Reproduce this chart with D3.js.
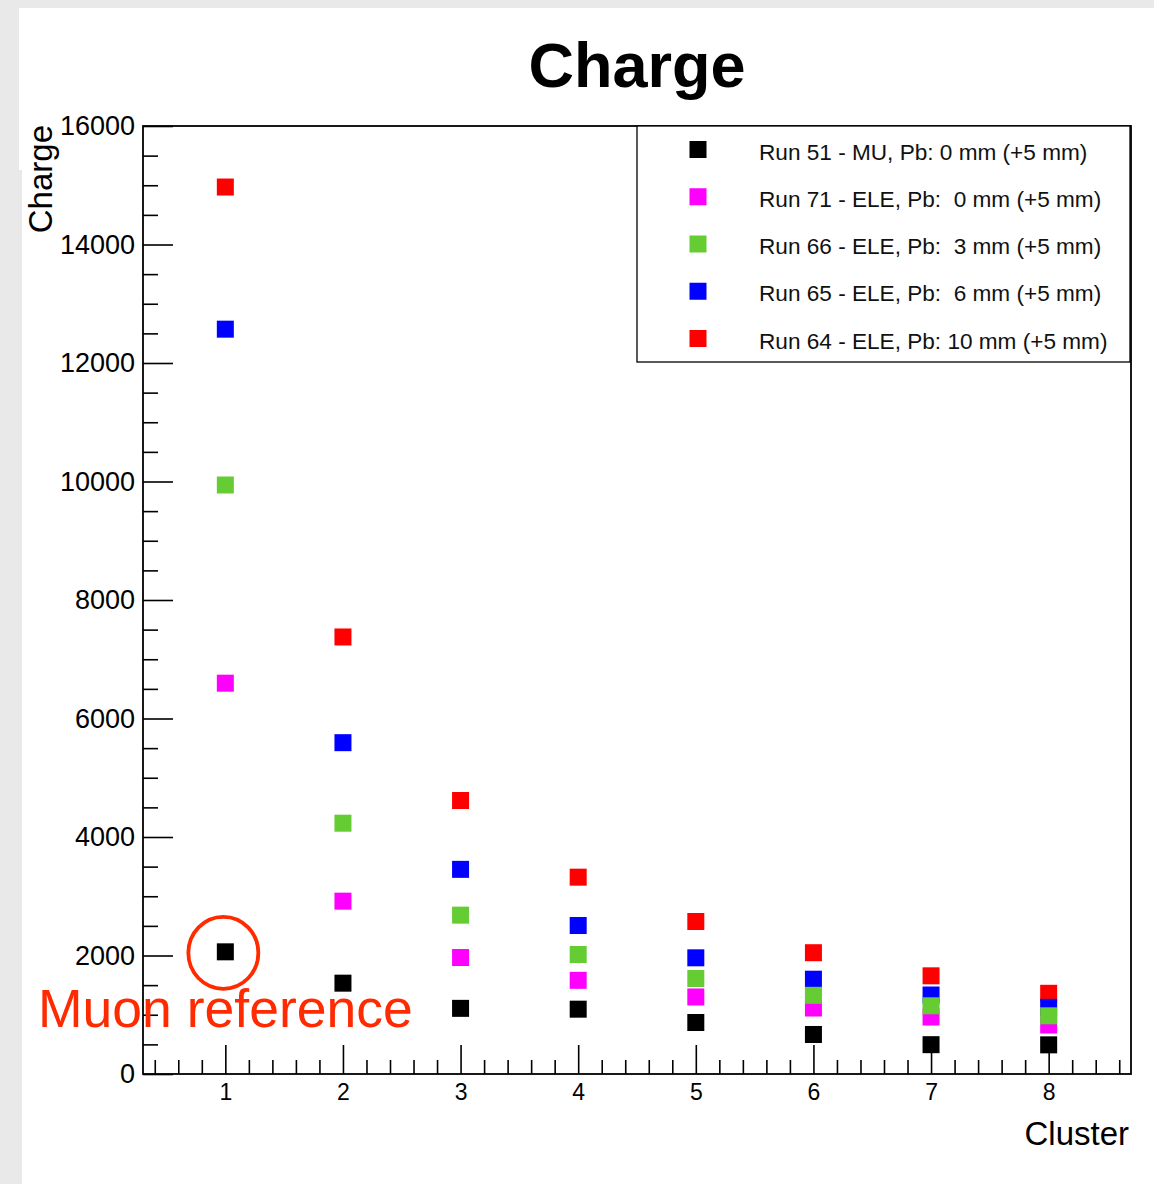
<!DOCTYPE html>
<html>
<head>
<meta charset="utf-8">
<script src="https://cdn.jsdelivr.net/npm/d3@7"></script>
<style>
  html, body { margin: 0; padding: 0; background: #e9e9e9; }
  svg { display: block; }
  text { font-family: "Liberation Sans", Arial, Helvetica, sans-serif; }
</style>
</head>
<body>
<script>
// Mean cluster charge per run, clusters 1..8
const clusters = [1, 2, 3, 4, 5, 6, 7, 8];
const run51 = [2062, 1533, 1108, 1094, 869, 667, 495, 492];
const run71 = [6596, 2917, 1966, 1581, 1300, 1114, 962, 827];
const run66 = [9941, 4233, 2681, 2017, 1612, 1328, 1151, 982];
const run65 = [12571, 5592, 3454, 2506, 1961, 1600, 1333, 1125];
const run64 = [14970, 7376, 4616, 3322, 2574, 2047, 1657, 1362];

const legendLabels = [
  "Run 51 - MU, Pb: 0 mm (+5 mm)",
  "Run 71 - ELE, Pb:  0 mm (+5 mm)",
  "Run 66 - ELE, Pb:  3 mm (+5 mm)",
  "Run 65 - ELE, Pb:  6 mm (+5 mm)",
  "Run 64 - ELE, Pb: 10 mm (+5 mm)"
];
const yMajorTicks = [0, 2000, 4000, 6000, 8000, 10000, 12000, 14000, 16000];
const xMajorTicks = [1, 2, 3, 4, 5, 6, 7, 8];

const series = [
  { values: run51, color: "#000000", label: legendLabels[0] },
  { values: run71, color: "#ff00ff", label: legendLabels[1] },
  { values: run66, color: "#66cc33", label: legendLabels[2] },
  { values: run65, color: "#0000ff", label: legendLabels[3] },
  { values: run64, color: "#ff0000", label: legendLabels[4] }
];
// painting order of the point sets
const drawOrder = [0, 1, 4, 3, 2];

const W = 1154, H = 1184;
const svg = d3.select("body").append("svg").attr("width", W).attr("height", H);

// canvas
svg.append("rect").attr("x", 0).attr("y", 0).attr("width", W).attr("height", H).attr("fill", "#e9e9e9");
svg.append("rect").attr("x", 19).attr("y", 8).attr("width", W - 19).attr("height", 162).attr("fill", "#ffffff");
svg.append("rect").attr("x", 22).attr("y", 168).attr("width", W - 22).attr("height", H - 168).attr("fill", "#ffffff");

const L = 143, R = 1131, T = 126, B = 1074;
const x = d3.scaleLinear().domain([0.3, 8.7]).range([L, R]);
const y = d3.scaleLinear().domain([0, 16000]).range([B, T]);

// minor ticks
const yMinor = d3.range(0, 16001, 500).filter(v => v % 2000 !== 0);
const xMinor = d3.range(4, 88, 2).map(v => v / 10).filter(v => Math.abs(v - Math.round(v)) > 1e-6);

const gYMinor = svg.append("g").attr("transform", `translate(${L},0)`)
  .call(d3.axisLeft(y).tickValues(yMinor).tickSizeInner(-15).tickSizeOuter(0).tickFormat(""));
const gYMajor = svg.append("g").attr("transform", `translate(${L},0)`)
  .call(d3.axisLeft(y).tickValues(yMajorTicks).tickSizeInner(-30).tickSizeOuter(0).tickPadding(8).tickFormat(d3.format("d")));
const gXMinor = svg.append("g").attr("transform", `translate(0,${B})`)
  .call(d3.axisBottom(x).tickValues(xMinor).tickSizeInner(-14).tickSizeOuter(0).tickFormat(""));
const gXMajor = svg.append("g").attr("transform", `translate(0,${B})`)
  .call(d3.axisBottom(x).tickValues(xMajorTicks).tickSizeInner(-29).tickSizeOuter(0).tickPadding(10).tickFormat(d3.format("d")));

[gYMinor, gYMajor, gXMinor, gXMajor].forEach(g => {
  g.select(".domain").remove();
  g.selectAll(".tick line").attr("stroke", "#000").attr("stroke-width", 1.6);
});
gYMajor.selectAll(".tick text").attr("font-size", 27).attr("fill", "#000")
  .attr("font-family", "'Liberation Sans', Arial, Helvetica, sans-serif");
gXMajor.selectAll(".tick text").attr("font-size", 23).attr("fill", "#000")
  .attr("font-family", "'Liberation Sans', Arial, Helvetica, sans-serif");

// frame
svg.append("rect").attr("x", L).attr("y", T).attr("width", R - L).attr("height", B - T)
  .attr("fill", "none").attr("stroke", "#000").attr("stroke-width", 1.8);

// points
const S = 17;
drawOrder.forEach(i => {
  const s = series[i];
  svg.append("g").selectAll("rect").data(clusters).join("rect")
    .attr("x", (c) => x(c) - S / 2)
    .attr("y", (c, k) => y(s.values[k]) - S / 2)
    .attr("width", S).attr("height", S)
    .attr("fill", s.color);
});

// legend
const lg = svg.append("g");
lg.append("rect").attr("x", 637).attr("y", 126).attr("width", 493).attr("height", 236)
  .attr("fill", "#fff").attr("stroke", "#000").attr("stroke-width", 1.3);
series.forEach((s, i) => {
  const cy = 149.5 + i * 47.25;
  lg.append("rect").attr("x", 698 - S / 2).attr("y", cy - S / 2).attr("width", S).attr("height", S).attr("fill", s.color);
  lg.append("text").attr("x", 759).attr("y", cy + 10).attr("font-size", 22.6).attr("fill", "#111")
    .style("white-space", "pre").text(s.label);
});

// titles
svg.append("text").attr("x", 637).attr("y", 87).attr("text-anchor", "middle")
  .attr("font-size", 63).attr("font-weight", "bold").attr("fill", "#000").text("Charge");
svg.append("text").attr("transform", "translate(52,125) rotate(-90)").attr("text-anchor", "end")
  .attr("font-size", 33).attr("fill", "#000").text("Charge");
svg.append("text").attr("x", 1129).attr("y", 1145).attr("text-anchor", "end")
  .attr("font-size", 33).attr("fill", "#000").text("Cluster");

// annotation around the muon point of cluster 1
const red = "#ff2a00";
svg.append("ellipse").attr("cx", x(clusters[0]) - 2).attr("cy", y(run51[0]) + 1)
  .attr("rx", 35).attr("ry", 36).attr("fill", "none").attr("stroke", red).attr("stroke-width", 3.8);
svg.append("text").attr("x", 38).attr("y", 1027).attr("font-size", 53.5).attr("fill", red).text("Muon reference");
</script>
</body>
</html>
